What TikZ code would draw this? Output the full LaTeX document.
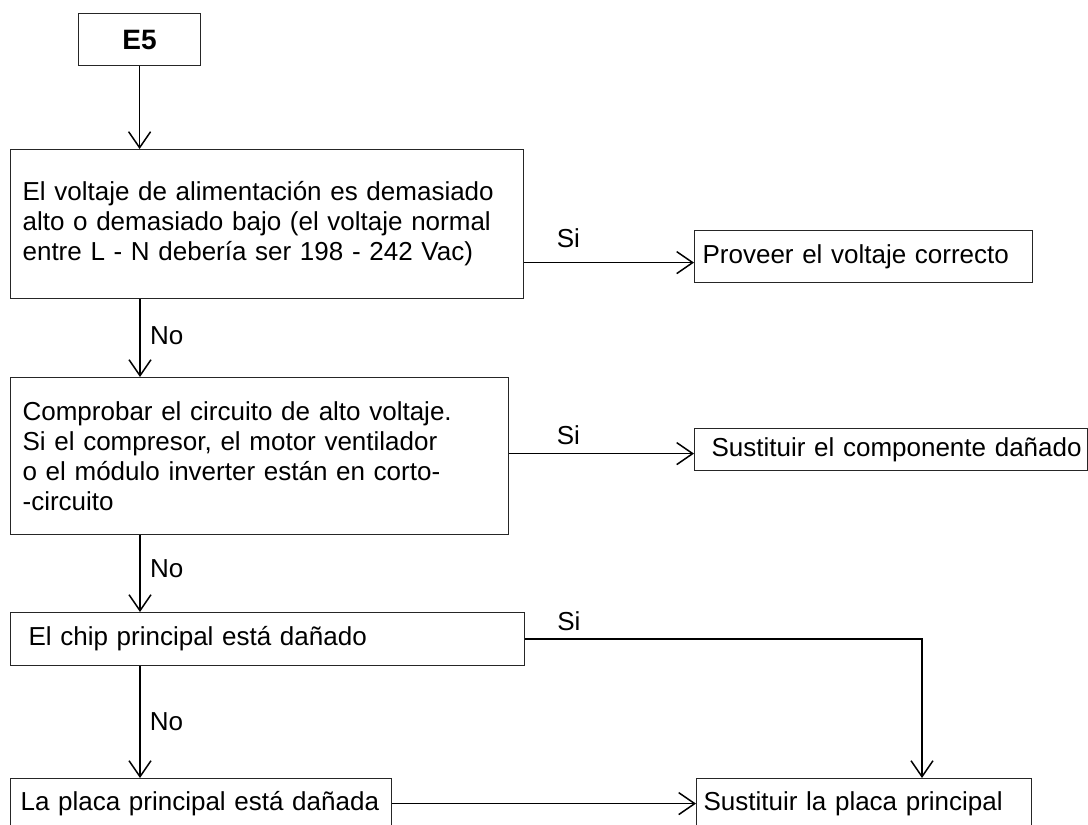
\documentclass[tikz,border=0pt]{standalone}
\usepackage{fontspec}
\setmainfont{Liberation Sans}
\usetikzlibrary{arrows.meta}
\begin{document}
\begin{tikzpicture}[x=1pt,y=-1pt,
  every node/.style={font=\fontsize{26}{30}\selectfont, text=black},
  box/.style={draw=black!85, line width=1.2pt, inner ysep=0pt, anchor=north west, align=left},
  arr/.style={draw=black, line width=1.5pt, -{Straight Barb[length=16pt,width=22pt,line width=1.5pt]}},
  noarr/.style={arr, line width=2.2pt},
  lbl/.style={inner sep=0pt}]
\useasboundingbox (0,0) rectangle (1088,825);

% nodes
\node[box, minimum width=122pt, minimum height=52pt, align=center, inner xsep=0pt,
      font=\fontsize{28}{32}\selectfont\bfseries] (e5) at (78,13) {E5};
\node[box, text width=489pt, inner xsep=12pt, minimum height=149pt] (b1) at (10,149)
  {El voltaje de alimentación es demasiado\\alto o demasiado bajo (el voltaje normal\\entre L - N debería ser 198 - 242 Vac)};
\node[box, text width=322pt, inner xsep=8pt, minimum height=52pt] (pv) at (694,230) {Proveer el voltaje correcto};
\node[box, text width=474pt, inner xsep=12pt, minimum height=157pt] (b2) at (10,377)
  {Comprobar el circuito de alto voltaje.\\Si el compresor, el motor ventilador\\o el módulo inverter están en corto-\\-circuito};
\node[box, text width=393pt, inner xsep=0pt, minimum height=42pt] (comp) at (694,428) {\hspace*{17pt}Sustituir el componente dañado};
\node[box, text width=478pt, inner xsep=18pt, minimum height=53pt] (b3) at (10,612) {El chip principal está dañado};
\node[box, text width=361pt, inner xsep=10pt, minimum height=50pt] (b4) at (10,778) {La placa principal está dañada};
\node[box, text width=321pt, inner xsep=7pt, minimum height=50pt] (pl) at (696,778) {Sustituir la placa principal};

% helper coordinates
\coordinate (ax) at (140,0);
\coordinate (pvy) at ([yshift=-6pt]pv.west);
\coordinate (cpy) at ([yshift=-4pt]comp.west);
\coordinate (c3) at (922,0);

% vertical flow
\draw[arr] (e5.south) -- (e5.south |- b1.north);
\draw[noarr] (ax |- b1.south) -- node[lbl, anchor=west, xshift=9pt, pos=0.47] {No} (ax |- b2.north);
\draw[noarr] (ax |- b2.south) -- node[lbl, anchor=west, xshift=9pt, pos=0.43] {No} (ax |- b3.north);
\draw[arr] (ax |- b3.south) -- node[lbl, anchor=west, xshift=9pt, pos=0.5] {No} (ax |- b4.north);

% Si branches
\draw[arr] (b1.east |- pvy) -- node[lbl, anchor=south, pos=0.26, yshift=14pt] {Si} (pvy);
\draw[arr] (b2.east |- cpy) -- node[lbl, anchor=south, pos=0.32, yshift=8pt] {Si} (cpy);
\draw[arr] (b3.east) -- node[lbl, anchor=south, pos=0.11, yshift=8pt] {Si} (b3.east -| c3) -- (c3 |- pl.north);
\draw[arr] (b4.east) -- (b4.east -| pl.west);
\end{tikzpicture}
\end{document}
